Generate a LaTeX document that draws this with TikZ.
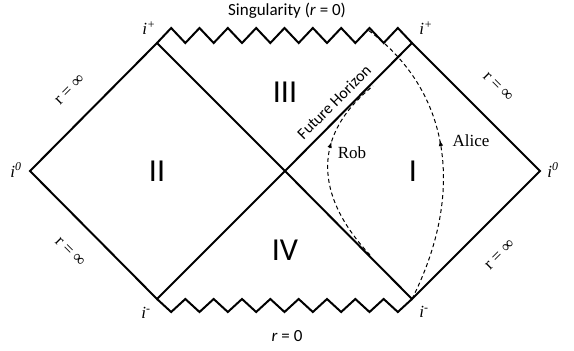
\documentclass[tikz,border=0pt]{standalone}
\usepackage{fontspec}
\setmainfont{Liberation Serif}
\newfontfamily\calib{Carlito}
\usetikzlibrary{decorations.markings,arrows.meta}
\begin{document}
\begin{tikzpicture}[x=1pt,y=-1pt]
\useasboundingbox (0,0) rectangle (574,351);
\tikzset{
  edge/.style={line width=2pt, line join=miter},
  world/.style={line width=1pt, dash pattern=on 4pt off 3pt},
  sanslbl/.style={font=\calib\fontsize{17}{17}\selectfont, inner sep=0pt},
  seriflbl/.style={font=\fontsize{17}{17}\selectfont, inner sep=0pt},
  region/.style={font=\calib\fontsize{32}{32}\selectfont, inner sep=0pt},
  tip at/.style={postaction={decorate, decoration={markings,
      mark=at position #1 with {\arrow{Latex[length=6pt,width=4.5pt]}}}}},
}
% corners
\coordinate (L) at (30,171);
\coordinate (R) at (540,171);
\coordinate (C) at (285,171);
\coordinate (TL) at (157,43);
\coordinate (TR) at (412,43);
\coordinate (BL) at (157,299);
\coordinate (BR) at (412,299);
% diamonds
\draw[edge] (L) -- (TL) -- (C) -- (BR) -- (R) -- (TR) -- (C) -- (BL) -- cycle;
% singularities
\draw[edge] (TL) \foreach \k in {1,...,9} { -- ++(14.1667,-15) -- ++(14.1667,15) };
\draw[edge] (BL) \foreach \k in {1,...,9} { -- ++(14.1667,13) -- ++(14.1667,-13) };
% worldlines
\coordinate (aliceEnd) at (368,30);
\coordinate (robStart) at (370,255);
\coordinate (robEnd) at (373,86);
\draw[world, tip at=0.55] (BR) .. controls (462,200) and (456,95) .. (aliceEnd);
\draw[world, tip at=0.64] (robStart) .. controls (314,195) and (312,135) .. (robEnd);
% labels
\node[sanslbl] (sing) at (287,11) {Singularity (\textit{r} = 0)};
\node[sanslbl] (rzero) at (287,336) {\textit{r} = 0};
\node[region] (III) at (285,92) {III};
\node[region] (II) at (157,171) {II};
\node[region] (I) at (413,171) {I};
\node[region] (IV) at (285,250) {IV};
\node[sanslbl, font=\calib\fontsize{16}{16}\selectfont, rotate=45] (fh) at (334,102) {Future Horizon};
\node[seriflbl] (rob) at (352,153) {Rob};
\node[seriflbl] (alice) at (471,141) {Alice};
\node[seriflbl] (i0l) at (16,170) {\itshape i\textsuperscript{0}};
\node[seriflbl] (i0r) at (553,170) {\itshape i\textsuperscript{0}};
\node[seriflbl] (ipl) at (149,28) {\itshape i\textsuperscript{+}};
\node[seriflbl] (ipr) at (426,28) {\itshape i\textsuperscript{+}};
\node[seriflbl] (iml) at (146,313) {\itshape i\textsuperscript{-}};
\node[seriflbl] (imr) at (424,312) {\itshape i\textsuperscript{-}};
\node[seriflbl, rotate=45] (rinf1) at (70,90) {r = ∞};
\node[seriflbl, rotate=-45] (rinf2) at (498,87) {r = ∞};
\node[seriflbl, rotate=-45] (rinf3) at (70,252) {r = ∞};
\node[seriflbl, rotate=45] (rinf4) at (500,255) {r = ∞};
\end{tikzpicture}
\end{document}
